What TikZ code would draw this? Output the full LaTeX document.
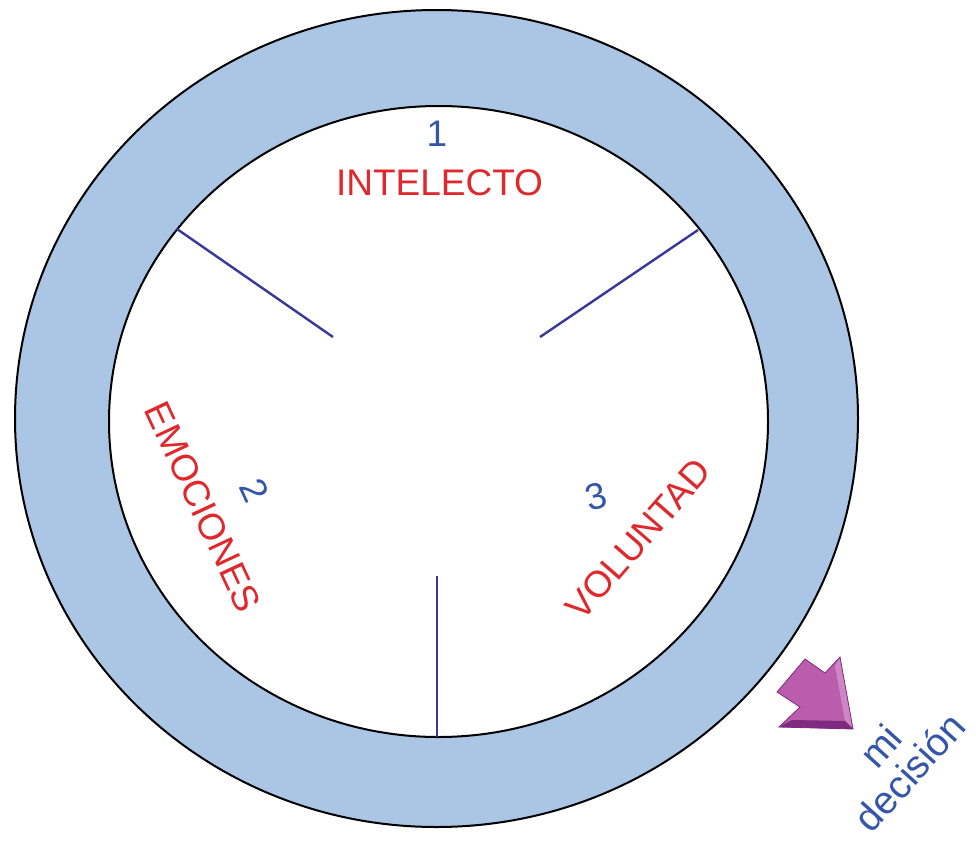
\documentclass[tikz,border=0pt]{standalone}
\usepackage{fontspec}
\setmainfont{Liberation Sans}
\definecolor{ringblue}{HTML}{ABC5E4}
\definecolor{spokeblue}{HTML}{38389A}
\definecolor{lblred}{HTML}{E0282C}
\definecolor{numblue}{HTML}{3356AA}
\definecolor{arrowpurple}{HTML}{BA5DAC}
\definecolor{arrowdark}{HTML}{7E2A80}
\definecolor{arrowlight}{HTML}{CF86C6}
\begin{document}
\begin{tikzpicture}[x=1pt,y=-1pt]
\tikzset{
  ringline/.style={draw=black, line width=2pt},
  spoke/.style={draw=spokeblue, line width=2.4pt},
  lbl/.style={text=lblred, font=\fontsize{37}{44}\selectfont, inner sep=0pt},
  num/.style={text=numblue, font=\fontsize{37}{44}\selectfont, inner sep=0pt},
  dec/.style={text=numblue, font=\fontsize{39}{39}\selectfont, inner sep=0pt, rotate=48, align=center}
}
\useasboundingbox (0,0) rectangle (976,841);
% ring
\fill[ringblue, even odd rule] (436.5,418.5) ellipse [x radius=421.5pt, y radius=408.5pt]
  (438.5,421.5) ellipse [x radius=329.5pt, y radius=315.5pt];
\draw[ringline] (436.5,418.5) ellipse [x radius=421.5pt, y radius=408.5pt];
\draw[ringline] (438.5,421.5) ellipse [x radius=329.5pt, y radius=315.5pt];
% spokes
\coordinate (s1a) at (177,229); \coordinate (s1b) at (333,337);
\coordinate (s2a) at (698,230); \coordinate (s2b) at (540,337);
\coordinate (s3a) at (437,737); \coordinate (s3b) at (437,576);
\draw[spoke] (s1a) -- (s1b);
\draw[spoke] (s2a) -- (s2b);
\draw[spoke] (s3a) -- (s3b);
% labels
\node[num] (n1) at (437,133.5) {1};
\node[lbl, anchor=base] (intel) at (439.5,195) {INTELECTO};
\node[lbl, rotate=-65] (emo) at (203,507) {EMOCIONES};
\node[num, rotate=-65] (n2) at (255,490) {2};
\node[lbl, rotate=49] (vol) at (638,539) {VOLUNTAD};
\node[num, rotate=15] (n3) at (596,497) {3};
% arrow
\fill[arrowpurple] (853,729) -- (779,727) -- (800,707) -- (777,692) -- (805,659) -- (825,673) -- (840,657) -- cycle;
\fill[arrowlight] (840,657) -- (853,729) -- (845,721) -- (835,666) -- cycle;
\fill[arrowdark] (779,727) -- (853,729) -- (845,721) -- (792,720) -- cycle;
\draw[arrowdark, line width=0.8pt, line join=miter] (853,729) -- (779,727) -- (800,707) -- (777,692) -- (805,659) -- (825,673) -- (840,657) -- cycle;
% decision text
\node[dec] (decis) at (895,759) {mi\\decisión};
\end{tikzpicture}
\end{document}
